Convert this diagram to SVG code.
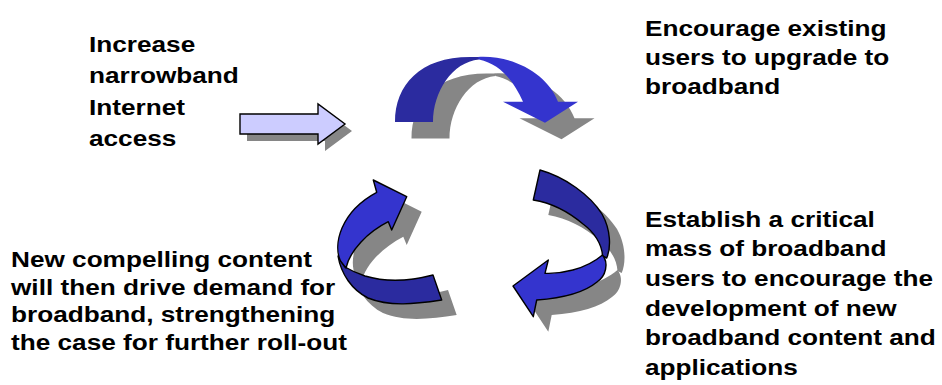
<svg xmlns="http://www.w3.org/2000/svg" xmlns:xlink="http://www.w3.org/1999/xlink" width="942" height="385" viewBox="0 0 942 385">
<style>
.lbl{font-family:"Liberation Sans",Arial,Helvetica,sans-serif;font-weight:bold;font-size:22px;fill:#000}
.shadow{fill:#868686;stroke:none}
.dark{fill:#2B2B9F}
.light{fill:#3434CE}
.ol{stroke:#000;stroke-width:1.4;stroke-linejoin:round}
.input{fill:#CCCCFF;stroke:#000;stroke-width:1.4;stroke-linejoin:miter}
</style>
<defs>
<path id="in-arrow" d="M240,114 L318,114 L318,104 L345,124 L318,144 L318,134 L240,134 Z"/>
<path id="top-dark" d="M395,122 C395,85 420,57 470,57 L479,57 L479,59.5 C452,62 433,92 433,122 Z"/>
<path id="top-light" d="M478,57 C515,55 548,75 558,101.7 L578,101.7 L545,122.7 L503,101.7 L523,101.7 C513,80 500,64 479,59.5 Z"/>
<path id="ll-dark" d="M338,256 C341,274 352,290 368,298 C390,307 415,304 441.7,300 L433,275 C410,281 385,282 365,276 C356,273 350,270 345,267 Z"/>
<path id="ll-light" d="M376.7,192.3 L373.3,180 L406.7,196.7 L391.7,230 L388.3,221.7 C368,232 350,250 346,268 L340.5,261 C333,245 340,212 376.7,192.3 Z"/>
<path id="lr-dark" d="M540,170 C565,177 590,195 602,214 C611,230 611,248 606.7,258 L602.5,256 C602,244 594,232 583,224 C570,213 552,203 533.3,200 Z"/>
<path id="lr-light" d="M602.5,255 C609,263 606,276 597,282 C585,292 565,298 536.7,300 L533.3,316.7 L513,286 L548.3,260 L545,273.3 C560,274 585,270 602.5,255 Z"/>
</defs>
<rect x="0" y="0" width="942" height="385" fill="#fff"/>
<g id="connectors">
  <g id="input-arrow">
    <use xlink:href="#in-arrow" class="shadow" transform="translate(7,7)"/>
    <use xlink:href="#in-arrow" class="input"/>
  </g>
  <g id="cycle-top">
    <g transform="translate(16.5,16.5)">
      <use xlink:href="#top-dark" class="shadow"/>
      <use xlink:href="#top-light" class="shadow"/>
    </g>
    <use xlink:href="#top-dark" class="dark"/>
    <use xlink:href="#top-light" class="light"/>
  </g>
  <g id="cycle-right">
    <g transform="translate(15,15)">
      <use xlink:href="#lr-dark" class="shadow"/>
      <use xlink:href="#lr-light" class="shadow"/>
    </g>
    <use xlink:href="#lr-dark" class="dark ol"/>
    <use xlink:href="#lr-light" class="light ol"/>
  </g>
  <g id="cycle-left">
    <g transform="translate(15,15)">
      <use xlink:href="#ll-dark" class="shadow"/>
      <use xlink:href="#ll-light" class="shadow"/>
    </g>
    <use xlink:href="#ll-dark" class="dark ol"/>
    <use xlink:href="#ll-light" class="light ol"/>
  </g>
</g>
<g id="node-narrowband" transform="translate(89,0) scale(1.19,1)">
  <text class="lbl" x="0" y="52">Increase</text>
  <text class="lbl" x="0" y="83.5">narrowband</text>
  <text class="lbl" x="0" y="115">Internet</text>
  <text class="lbl" x="0" y="146.5">access</text>
</g>
<g id="node-upgrade" transform="translate(645,0) scale(1.19,1)">
  <text class="lbl" x="0" y="36">Encourage existing</text>
  <text class="lbl" x="0" y="65">users to upgrade to</text>
  <text class="lbl" x="0" y="94">broadband</text>
</g>
<g id="node-critical-mass" transform="translate(645,0) scale(1.19,1)">
  <text class="lbl" x="0" y="226.7">Establish a critical</text>
  <text class="lbl" x="0" y="256.4">mass of broadband</text>
  <text class="lbl" x="0" y="286.1">users to encourage the</text>
  <text class="lbl" x="0" y="315.8">development of new</text>
  <text class="lbl" x="0" y="345.5">broadband content and</text>
  <text class="lbl" x="0" y="375.2">applications</text>
</g>
<g id="node-content" transform="translate(11,0) scale(1.19,1)">
  <text class="lbl" x="0" y="266.7">New compelling content</text>
  <text class="lbl" x="0" y="294.7">will then drive demand for</text>
  <text class="lbl" x="0" y="322.5">broadband, strengthening</text>
  <text class="lbl" x="0" y="350.3">the case for further roll-out</text>
</g>
</svg>
